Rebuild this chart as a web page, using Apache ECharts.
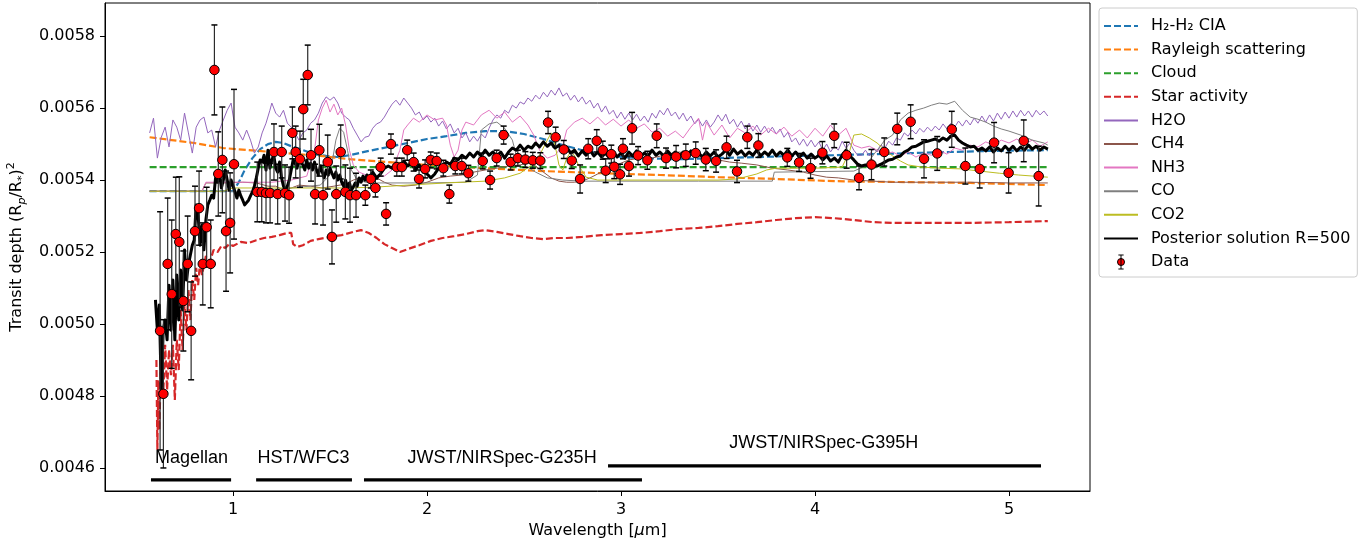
<!DOCTYPE html>
<html>
<head>
<meta charset="utf-8">
<script src="https://cdn.jsdelivr.net/npm/echarts@6/dist/echarts.min.js"></script>
<style>
  html, body { margin: 0; padding: 0; background: #ffffff; }
  #chart { width: 1364px; height: 546px; }
</style>
</head>
<body>
<div id="chart"></div>
<script>
// Transmission spectrum: observed transit depths (ppm) with model contributions.

const xTicks = [1, 2, 3, 4, 5];
const yTicks = [0.0046, 0.0048, 0.0050, 0.0052, 0.0054, 0.0056, 0.0058];

// Observed points: wavelength [um], depth [ppm], 1-sigma error [ppm]
const dataWl = [
  0.624, 0.641, 0.663, 0.684, 0.705, 0.723, 0.744, 0.766, 0.784, 0.804,
  0.825, 0.844, 0.864, 0.885, 0.904, 0.924, 0.945, 0.964, 0.985, 1.005,
  1.125, 1.148, 1.170, 1.191, 1.211, 1.230, 1.251, 1.268, 1.289, 1.306,
  1.323, 1.345, 1.362, 1.385, 1.402, 1.423, 1.445, 1.464, 1.488, 1.510,
  1.532, 1.555, 1.579, 1.603,
  1.634, 1.682, 1.710, 1.734, 1.761, 1.789, 1.814, 1.844, 1.870, 1.898,
  1.931, 1.959, 1.990, 2.019, 2.050, 2.084, 2.115, 2.146, 2.179, 2.213,
  2.287, 2.325, 2.359, 2.395, 2.431, 2.468, 2.507, 2.545, 2.584, 2.624,
  2.663, 2.705, 2.746, 2.789, 2.831, 2.875, 2.906, 2.921, 2.950, 2.965,
  2.995, 3.010, 3.041, 3.057, 3.088, 3.136, 3.184, 3.232, 3.284, 3.334,
  3.385, 3.437, 3.490, 3.544, 3.598, 3.651, 3.708, 3.857, 3.918, 3.977,
  4.038, 4.099, 4.163, 4.227, 4.291, 4.357, 4.424, 4.493, 4.562, 4.630,
  4.705, 4.775, 4.849, 4.923, 4.998, 5.076, 5.153
];
const dataPpm = [
  4981, 4806, 5167, 5083, 5250, 5228, 5064, 5167, 4981, 5258,
  5322, 5167, 5269, 5167, 5706, 5417, 5456, 5258, 5281, 5444,
  5367, 5367, 5364, 5364, 5478, 5361, 5478, 5364, 5358, 5531,
  5478, 5458, 5597, 5692, 5469, 5361, 5483, 5358, 5450, 5242,
  5361, 5478, 5367, 5358,
  5358, 5358, 5403, 5378, 5436, 5306, 5500, 5436, 5436, 5483,
  5450, 5403, 5431, 5456, 5453, 5433, 5361, 5439, 5439, 5419,
  5453, 5400, 5461, 5525, 5450, 5461, 5457, 5455, 5454, 5560,
  5519, 5485, 5454, 5403, 5487, 5509, 5483, 5426, 5472, 5437,
  5416, 5487, 5439, 5544, 5468, 5455, 5523, 5461, 5465, 5469,
  5475, 5457, 5453, 5491, 5424, 5519, 5496, 5463, 5449, 5433,
  5476, 5523, 5469, 5406, 5443, 5478, 5542, 5562, 5459, 5474,
  5541, 5439, 5431, 5504, 5420, 5509, 5411
];
const dataErr = [
  331, 206, 183, 206, 158, 181, 139, 133, 136, 125,
  103, 114, 111, 122, 125, 117, 147, 167, 139, 208,
  83, 83, 83, 83, 78, 83, 72, 78, 78, 72,
  72, 78, 83, 83, 72, 83, 72, 83, 75, 75,
  78, 75, 75, 75,
  61, 28, 25, 25, 25, 31, 28, 25, 25, 28,
  25, 25, 25, 22, 22, 22, 25, 22, 22, 22,
  22, 25, 22, 25, 22, 22, 22, 22, 22, 31,
  28, 25, 22, 39, 28, 31, 25, 33, 25, 33,
  28, 28, 28, 44, 25, 25, 33, 28, 31, 31,
  31, 31, 31, 31, 31, 31, 33, 25, 25, 28,
  31, 33, 36, 33, 42, 39, 44, 47, 53, 47,
  50, 50, 53, 56, 56, 58, 83
];

// Best-fit posterior spectrum
const postWl = [
  0.60, 0.61, 0.62, 0.63, 0.64, 0.65, 0.66, 0.67, 0.68, 0.69,
  0.70, 0.71, 0.72, 0.73, 0.74, 0.75, 0.76, 0.77, 0.78, 0.79,
  0.80, 0.81, 0.82, 0.83, 0.84, 0.85, 0.86, 0.87, 0.88, 0.89,
  0.90, 0.91, 0.92, 0.93, 0.94, 0.95, 0.96, 0.97, 0.98, 0.99, 1.00,
  1.01, 1.02, 1.03, 1.04, 1.05, 1.06, 1.07, 1.08, 1.09, 1.10,
  1.11, 1.12, 1.13, 1.14, 1.15, 1.16, 1.17, 1.18, 1.19, 1.20,
  1.21, 1.22, 1.23, 1.24, 1.25, 1.26, 1.27, 1.28, 1.29, 1.30,
  1.31, 1.32, 1.33, 1.34, 1.35, 1.36, 1.37, 1.38, 1.39, 1.40,
  1.41, 1.42, 1.43, 1.44, 1.45, 1.46, 1.47, 1.48, 1.49, 1.50,
  1.51, 1.52, 1.53, 1.54, 1.55, 1.56, 1.57, 1.58, 1.59, 1.60,
  1.61, 1.62, 1.63, 1.64, 1.65, 1.66, 1.67, 1.68, 1.69, 1.70,
  1.72, 1.74, 1.76, 1.78, 1.80, 1.82, 1.84, 1.86, 1.88, 1.90, 1.92, 1.94, 1.96, 1.98, 2.00,
  2.02, 2.04, 2.06, 2.08, 2.10, 2.12, 2.14, 2.16, 2.18, 2.20,
  2.22, 2.24, 2.26, 2.28, 2.30, 2.32, 2.34, 2.36, 2.38, 2.40,
  2.42, 2.44, 2.46, 2.48, 2.50, 2.52, 2.54, 2.56, 2.58, 2.60,
  2.62, 2.64, 2.66, 2.68, 2.70, 2.72, 2.74, 2.76, 2.78, 2.80,
  2.82, 2.84, 2.86, 2.88, 2.90, 2.92, 2.94, 2.96, 2.98, 3.00,
  3.02, 3.04, 3.06, 3.08, 3.10, 3.12, 3.14, 3.16, 3.18, 3.20,
  3.22, 3.24, 3.26, 3.28, 3.30, 3.32, 3.34, 3.36, 3.38, 3.40,
  3.42, 3.44, 3.46, 3.48, 3.50, 3.52, 3.54, 3.56, 3.58, 3.60,
  3.62, 3.64, 3.66, 3.68, 3.70, 3.72, 3.74, 3.76, 3.78, 3.80,
  3.82, 3.84, 3.86, 3.88, 3.90, 3.92, 3.94, 3.96, 3.98, 4.00,
  4.02, 4.04, 4.06, 4.08, 4.10, 4.12, 4.14, 4.16, 4.18, 4.20,
  4.22, 4.24, 4.26, 4.28, 4.30, 4.32, 4.34, 4.36, 4.38, 4.40,
  4.42, 4.44, 4.46, 4.48, 4.50, 4.52, 4.54, 4.56, 4.58, 4.60,
  4.62, 4.64, 4.66, 4.68, 4.70, 4.72, 4.74, 4.76, 4.78, 4.80,
  4.82, 4.84, 4.86, 4.88, 4.90, 4.92, 4.94, 4.96, 4.98, 5.00,
  5.02, 5.04, 5.06, 5.08, 5.10, 5.12, 5.14, 5.16, 5.18, 5.20
];
const postPpm = [
  5067, 4983, 5053, 4817, 4983, 5011, 4956, 5108, 4983, 5122,
  4956, 5136, 5011, 5150, 5039, 5206, 5122, 5164, 5192, 5219,
  5233, 5331, 5303, 5219, 5275, 5206, 5289, 5331, 5344, 5358,
  5350, 5406, 5394, 5422, 5378, 5400, 5428, 5400, 5372, 5400, 5400,
  5367, 5350, 5372, 5356, 5344, 5331, 5328, 5344, 5356, 5367,
  5383, 5406, 5433, 5456, 5450, 5469, 5428, 5483, 5433, 5456,
  5469, 5433, 5422, 5450, 5406, 5383, 5372, 5383, 5400, 5428,
  5456, 5447, 5433, 5456, 5461, 5442, 5428, 5456, 5433, 5447,
  5428, 5450, 5428, 5414, 5439, 5422, 5406, 5428, 5414, 5433,
  5419, 5406, 5422, 5400, 5414, 5394, 5383, 5400, 5378, 5392,
  5372, 5381, 5392, 5383, 5406, 5394, 5411, 5400, 5414, 5406,
  5422, 5406, 5417, 5433, 5439, 5433, 5447, 5439, 5453, 5439, 5447, 5428, 5442, 5422, 5417,
  5406, 5417, 5433, 5439, 5450, 5444, 5461, 5456, 5469, 5461,
  5475, 5464, 5478, 5467, 5483, 5469, 5478, 5467, 5478, 5461,
  5478, 5489, 5483, 5497, 5483, 5494, 5489, 5503, 5492, 5506,
  5494, 5503, 5489, 5497, 5483, 5492, 5475, 5483, 5467, 5481,
  5469, 5483, 5467, 5478, 5464, 5475, 5461, 5478, 5464, 5475,
  5461, 5478, 5467, 5481, 5464, 5475, 5467, 5483, 5469, 5478,
  5467, 5481, 5469, 5478, 5464, 5478, 5469, 5481, 5467, 5475,
  5464, 5478, 5467, 5478, 5464, 5472, 5483, 5469, 5486, 5472,
  5481, 5467, 5478, 5469, 5483, 5467, 5478, 5469, 5483, 5467,
  5478, 5469, 5483, 5467, 5478, 5464, 5475, 5461, 5472, 5461,
  5469, 5456, 5467, 5453, 5461, 5450, 5469, 5483, 5467, 5456,
  5444, 5439, 5442, 5439, 5442, 5439, 5444, 5450, 5456, 5458,
  5464, 5467, 5478, 5483, 5492, 5494, 5500, 5506, 5508, 5511,
  5514, 5508, 5517, 5511, 5522, 5525, 5511, 5503, 5497, 5492,
  5494, 5483, 5489, 5481, 5492, 5478, 5489, 5481, 5494, 5483,
  5494, 5481, 5492, 5483, 5497, 5486, 5494, 5483, 5492, 5486
];

// Parametric contributions
const ciaWl = [0.57, 1.00, 1.03, 1.06, 1.10, 1.14, 1.18, 1.22, 1.26, 1.30,
  1.36, 1.42, 1.48, 1.54, 1.60, 1.70, 1.80, 1.90, 2.00, 2.10,
  2.20, 2.30, 2.40, 2.50, 2.60, 2.70, 2.80, 2.90, 3.00, 3.10,
  3.30, 3.50, 3.70, 3.90, 4.10, 4.30, 4.50, 4.70, 4.90, 5.20];
const ciaPpm = [5369, 5369, 5394, 5428, 5461, 5486, 5500, 5506, 5503, 5494,
  5483, 5472, 5467, 5464, 5469, 5481, 5492, 5503, 5514, 5522,
  5531, 5536, 5536, 5528, 5514, 5497, 5483, 5472, 5464, 5461,
  5458, 5461, 5464, 5467, 5469, 5472, 5475, 5478, 5481, 5483];

const rayWl = [0.57, 0.80, 0.95, 1.20, 1.45, 1.60, 1.80, 2.00, 2.30, 2.60,
  2.90, 3.20, 3.50, 3.80, 4.10, 4.50, 4.80, 5.20];
const rayPpm = [5519, 5503, 5489, 5478, 5467, 5458, 5450, 5442, 5433, 5425,
  5419, 5414, 5408, 5403, 5397, 5394, 5392, 5386];

const cloudWl = [0.57, 5.20];
const cloudPpm = [5436, 5436];

const starWl = [0.605, 0.61, 0.615, 0.62, 0.63, 0.64, 0.65, 0.66, 0.67, 0.68,
  0.69, 0.70, 0.71, 0.72, 0.73, 0.74, 0.75, 0.76, 0.77, 0.78,
  0.79, 0.80, 0.81, 0.82, 0.83, 0.84, 0.86, 0.88, 0.90, 0.92,
  0.94, 0.96, 0.98, 1.00, 1.04, 1.08, 1.12, 1.16, 1.20, 1.24,
  1.28, 1.30, 1.31, 1.33, 1.36, 1.40, 1.44, 1.50, 1.56, 1.62,
  1.66, 1.70, 1.74, 1.78, 1.82, 1.86, 1.90, 1.96, 2.02, 2.08,
  2.14, 2.20, 2.26, 2.30, 2.36, 2.42, 2.48, 2.54, 2.60, 2.66,
  2.72, 2.80, 2.90, 3.00, 3.10, 3.20, 3.30, 3.40, 3.50, 3.60,
  3.70, 3.80, 3.90, 4.00, 4.10, 4.20, 4.30, 4.40, 4.60, 4.80,
  5.00, 5.20];
const starPpm = [4900, 4650, 4844, 4706, 4928, 4803, 4942, 4817, 4928, 4858,
  4942, 4789, 4956, 4872, 5039, 4928, 5053, 4983, 5094, 5011,
  5122, 5067, 5156, 5108, 5172, 5136, 5189, 5172, 5206, 5200,
  5217, 5211, 5222, 5217, 5228, 5225, 5233, 5239, 5242, 5247,
  5253, 5253, 5222, 5214, 5219, 5231, 5236, 5242, 5247, 5256,
  5261, 5253, 5239, 5222, 5211, 5200, 5208, 5219, 5231, 5239,
  5244, 5250, 5258, 5261, 5256, 5250, 5244, 5239, 5236, 5239,
  5239, 5242, 5247, 5250, 5253, 5258, 5264, 5267, 5272, 5278,
  5283, 5289, 5294, 5297, 5294, 5289, 5283, 5281, 5281, 5281,
  5283, 5286];

// Molecular contributions
const h2oWl = [0.57, 0.59, 0.61, 0.63, 0.65, 0.67, 0.69, 0.71, 0.73, 0.75,
  0.77, 0.79, 0.81, 0.83, 0.85, 0.87, 0.89, 0.91, 0.93, 0.95,
  0.97, 0.99, 1.01, 1.03, 1.05, 1.07, 1.09, 1.11, 1.13, 1.15,
  1.17, 1.19,
  1.20, 1.22, 1.24, 1.26, 1.28, 1.30, 1.32, 1.34, 1.36, 1.38,
  1.40, 1.42, 1.44, 1.46, 1.48, 1.50, 1.52, 1.54, 1.56, 1.58,
  1.60, 1.62, 1.64, 1.66, 1.68, 1.70, 1.72, 1.74, 1.76, 1.78,
  1.80, 1.82, 1.84, 1.86, 1.88, 1.90, 1.92, 1.94, 1.96, 1.98,
  2.00, 2.02, 2.04, 2.06, 2.08, 2.10, 2.12, 2.14, 2.16, 2.18,
  2.20, 2.22, 2.24, 2.26, 2.28, 2.30, 2.32, 2.34, 2.36, 2.38,
  2.40, 2.42, 2.44, 2.46, 2.48, 2.50, 2.52, 2.54, 2.56, 2.58,
  2.60, 2.62, 2.64, 2.66, 2.68, 2.70, 2.72, 2.74, 2.76, 2.78,
  2.80, 2.82, 2.84, 2.86, 2.88, 2.90, 2.92, 2.94, 2.96, 2.98,
  3.00, 3.02, 3.04, 3.06, 3.08, 3.10, 3.12, 3.14, 3.16, 3.18,
  3.20, 3.22, 3.24, 3.26, 3.28, 3.30, 3.32, 3.34, 3.36, 3.38,
  3.40, 3.42, 3.44, 3.46, 3.48, 3.50, 3.52, 3.54, 3.56, 3.58,
  3.60, 3.62, 3.64, 3.66, 3.68, 3.70, 3.72, 3.74, 3.76, 3.78,
  3.80, 3.82, 3.84, 3.86, 3.88, 3.90, 3.92, 3.94, 3.96, 3.98,
  4.00, 4.02, 4.04, 4.06, 4.08, 4.10, 4.12, 4.14, 4.16, 4.18,
  4.20, 4.22, 4.24, 4.26, 4.28, 4.30, 4.32, 4.34, 4.36, 4.38,
  4.40, 4.42, 4.44, 4.46, 4.48, 4.50, 4.52, 4.54, 4.56, 4.58,
  4.60, 4.62, 4.64, 4.66, 4.68, 4.70, 4.72, 4.74, 4.76, 4.78,
  4.80, 4.82, 4.84, 4.86, 4.88, 4.90, 4.92, 4.94, 4.96, 4.98,
  5.00, 5.02, 5.04, 5.06, 5.08, 5.10, 5.12, 5.14, 5.16, 5.18, 5.20];
const h2oPpm = [5531, 5572, 5461, 5519, 5547, 5492, 5567, 5547, 5511, 5586,
  5531, 5475, 5547, 5567, 5575, 5531, 5539, 5492, 5539, 5567,
  5594, 5614, 5547, 5531, 5511, 5539, 5511, 5475, 5492, 5531,
  5558, 5594,
  5614, 5586, 5575, 5594, 5558, 5547, 5531, 5511, 5531, 5539,
  5558, 5567, 5586, 5614, 5631, 5622, 5631, 5614, 5586, 5575,
  5567, 5544, 5525, 5506, 5519, 5522, 5544, 5556, 5561, 5575,
  5594, 5611, 5622, 5608, 5628, 5614, 5600, 5581, 5589, 5567,
  5578, 5561, 5572, 5550, 5564, 5542, 5556, 5531, 5544, 5517,
  5531, 5506, 5522, 5508, 5528, 5517, 5544, 5567, 5581, 5572,
  5594, 5586, 5608, 5600, 5617, 5611, 5628, 5619, 5636, 5625,
  5644, 5631, 5650, 5636, 5656, 5633, 5642, 5622, 5636, 5617,
  5631, 5611, 5622, 5600, 5614, 5589, 5606, 5583, 5594, 5572,
  5589, 5569, 5586, 5567, 5583, 5564, 5578, 5561, 5586, 5572,
  5594, 5581, 5600, 5578, 5589, 5569, 5586, 5564, 5578, 5556,
  5569, 5550, 5567, 5547, 5561, 5581, 5564, 5583, 5556, 5569,
  5547, 5564, 5542, 5558, 5536, 5553, 5533, 5550, 5531, 5547,
  5528, 5542, 5519, 5533, 5506, 5517, 5497, 5514, 5494, 5511,
  5492, 5506, 5483, 5500, 5478, 5494, 5483, 5508, 5489, 5503,
  5483, 5469, 5469, 5483, 5467, 5489, 5478, 5497, 5489, 5508,
  5497, 5517, 5511, 5531, 5522, 5539, 5528, 5544, 5533, 5547,
  5536, 5550, 5539, 5556, 5542, 5558, 5547, 5564, 5550, 5567,
  5553, 5572, 5558, 5578, 5561, 5581, 5564, 5586, 5569, 5589,
  5572, 5592, 5575, 5594, 5578, 5592, 5575, 5594, 5581, 5592, 5578];

const ch4Wl = [0.57, 0.84, 0.86, 0.95, 1.05, 1.12, 1.18, 1.22, 1.26, 1.30,
  1.34, 1.40, 1.46, 1.52, 1.58, 1.62, 1.68, 1.74, 1.78, 1.82,
  1.88, 1.94, 2.00, 2.06, 2.12, 2.18, 2.24, 2.30, 2.36, 2.42,
  2.48, 2.52, 2.56, 2.60, 2.64, 2.68, 2.72, 2.76, 2.80, 2.84,
  2.88, 2.92, 2.96, 3.00, 3.04, 3.10, 3.16, 3.22, 3.30, 3.38,
  3.44, 3.50, 3.56, 3.62, 3.70, 3.78, 3.86, 3.94, 4.00, 4.06,
  4.12, 4.20, 4.30, 4.40, 4.60, 4.80, 5.00, 5.20];
const ch4Ppm = [5369, 5369, 5392, 5392, 5394, 5392, 5383, 5383, 5372, 5378,
  5386, 5383, 5378, 5383, 5389, 5400, 5411, 5406, 5394, 5386,
  5383, 5386, 5394, 5406, 5411, 5414, 5422, 5428, 5433, 5439,
  5442, 5447, 5439, 5422, 5406, 5397, 5394, 5394, 5397, 5406,
  5417, 5428, 5439, 5447, 5456, 5461, 5461, 5469, 5478, 5467,
  5461, 5456, 5450, 5447, 5442, 5433, 5428, 5422, 5414, 5408,
  5406, 5400, 5397, 5394, 5394, 5394, 5392, 5392];

const nh3Wl = [0.57, 0.84, 0.86, 1.20, 1.30, 1.38,
  1.42, 1.44, 1.46, 1.48, 1.50, 1.52, 1.54, 1.56, 1.58, 1.60, 1.62,
  1.65, 1.70, 1.78, 1.82, 1.86, 1.88, 1.90, 1.93, 1.96,
  2.00, 2.04, 2.08, 2.10, 2.12, 2.14, 2.16, 2.18, 2.20,
  2.24, 2.28, 2.32, 2.36, 2.40, 2.44, 2.48, 2.52,
  2.55, 2.58, 2.62, 2.66, 2.70, 2.72,
  2.76, 2.80, 2.84, 2.88, 2.92, 2.96, 3.00, 3.04, 3.08, 3.12, 3.16, 3.20, 3.24, 3.28, 3.32, 3.36,
  3.40, 3.42, 3.44,
  3.48, 3.52, 3.56, 3.60, 3.64, 3.68, 3.72, 3.76, 3.80, 3.84,
  3.88, 3.92, 3.96, 4.00, 4.04, 4.08, 4.12, 4.16, 4.20, 4.24,
  4.28, 4.32, 4.36, 4.40, 4.44, 4.48, 4.52, 4.56, 4.60, 4.64,
  4.68, 4.72, 4.76, 4.80, 4.84, 4.88, 4.92, 4.96, 5.00, 5.04,
  5.08, 5.12, 5.16, 5.20];
const nh3Ppm = [5369, 5369, 5394, 5394, 5400, 5411,
  5483, 5567, 5600, 5622, 5589, 5611, 5581, 5600, 5553, 5483, 5442,
  5422, 5411, 5411, 5428, 5483, 5539, 5553, 5572, 5561,
  5581, 5567, 5572, 5553, 5497, 5464, 5483, 5539, 5561,
  5553, 5581, 5594, 5572, 5589, 5561, 5578, 5553,
  5525, 5483, 5461, 5469, 5497, 5539,
  5561, 5572, 5556, 5575, 5553, 5569, 5550, 5567, 5544, 5556, 5533, 5544, 5522, 5536, 5517, 5547,
  5572, 5511, 5561,
  5525, 5553, 5517, 5544, 5531, 5550, 5525, 5544, 5528, 5547,
  5522, 5539, 5517, 5544, 5522, 5553, 5525, 5544, 5497, 5489,
  5494, 5483, 5472, 5478, 5467, 5478, 5464, 5475, 5469, 5483,
  5472, 5489, 5483, 5497, 5492, 5506, 5497, 5511, 5503, 5514,
  5500, 5511, 5494, 5506];

const coWl = [0.57, 1.10, 1.30, 1.45, 1.50, 1.53, 1.55, 1.57, 1.59, 1.61,
  1.64, 1.70, 2.00, 2.20, 2.26,
  2.28, 2.32, 2.36, 2.40, 2.44, 2.46, 2.50, 2.56, 2.62, 2.70,
  2.80, 3.00, 3.40, 3.78, 3.79, 4.20, 4.26, 4.30, 4.36, 4.40,
  4.44, 4.48, 4.52, 4.56, 4.60, 4.64, 4.68, 4.72, 4.76, 4.80,
  4.84, 4.88, 4.92, 4.96, 5.00, 5.06, 5.12, 5.18, 5.20];
const coPpm = [5369, 5369, 5378, 5386, 5414, 5511, 5544, 5533, 5483, 5428,
  5400, 5392, 5392, 5394, 5414,
  5539, 5556, 5561, 5544, 5511, 5469, 5442, 5422, 5406, 5400,
  5397, 5397, 5397, 5397, 5422, 5425, 5439, 5469, 5511, 5525,
  5567, 5586, 5594, 5600, 5608, 5614, 5611, 5619, 5594, 5575,
  5569, 5561, 5550, 5542, 5536, 5525, 5511, 5503, 5497];

const co2Wl = [0.57, 0.95, 1.00, 1.60, 1.75, 1.90, 2.10, 2.30, 2.40, 2.48,
  2.54, 2.58, 2.62, 2.64, 2.66, 2.68, 2.70, 2.72, 2.74, 2.76,
  2.78, 2.82, 2.88, 3.00, 3.50, 3.60, 3.70, 3.75, 3.80, 4.00,
  4.14, 4.18, 4.20, 4.24, 4.28, 4.32, 4.36, 4.40, 4.44, 4.48,
  4.55, 4.65, 4.75, 4.85, 4.95, 5.05, 5.20];
const co2Ppm = [5369, 5369, 5378, 5378, 5381, 5386, 5392, 5397, 5406, 5419,
  5442, 5469, 5511, 5531, 5497, 5442, 5428, 5461, 5478, 5469,
  5442, 5408, 5400, 5400, 5400, 5403, 5417, 5428, 5433, 5433,
  5436, 5483, 5525, 5528, 5517, 5503, 5483, 5467, 5453, 5442,
  5436, 5433, 5431, 5425, 5419, 5414, 5408];

// Instrument coverage
const instNames = ['Magellan', 'HST/WFC3', 'JWST/NIRSpec-G235H', 'JWST/NIRSpec-G395H'];
const instStart = [0.577, 1.119, 1.675, 2.933];
const instEnd = [0.990, 1.613, 3.108, 5.165];
const instLevel = [4567, 4567, 4567, 4606];
const instLabelWl = [0.786, 1.363, 2.387, 4.045];
const instLabelLevel = [4628, 4628, 4628, 4669];

const FONT = 'DejaVu Sans';
const PPM = 1e-6;
const pairs = (wl, ppm) => wl.map((w, i) => [w, ppm[i] * PPM]);

const components = [
  { name: 'H₂-H₂ CIA', wl: ciaWl, v: ciaPpm, color: '#1f77b4', dash: true },
  { name: 'Rayleigh scattering', wl: rayWl, v: rayPpm, color: '#ff7f0e', dash: true },
  { name: 'Cloud', wl: cloudWl, v: cloudPpm, color: '#2ca02c', dash: true },
  { name: 'Star activity', wl: starWl, v: starPpm, color: '#d62728', dash: true },
  { name: 'H2O', wl: h2oWl, v: h2oPpm, color: '#9467bd', dash: false },
  { name: 'CH4', wl: ch4Wl, v: ch4Ppm, color: '#8c564b', dash: false },
  { name: 'NH3', wl: nh3Wl, v: nh3Ppm, color: '#e377c2', dash: false },
  { name: 'CO', wl: coWl, v: coPpm, color: '#7f7f7f', dash: false },
  { name: 'CO2', wl: co2Wl, v: co2Ppm, color: '#bcbd22', dash: false }
];

const series = [];
components.forEach(c => {
  series.push({
    name: c.name,
    type: 'line',
    data: pairs(c.wl, c.v),
    symbol: 'none',
    showSymbol: false,
    silent: true,
    z: 2,
    color: c.color,
    lineStyle: c.dash
      ? { color: c.color, width: 2.2, type: [7, 3] }
      : { color: c.color, width: 1 }
  });
});

series.push({
  name: 'Posterior solution R=500',
  type: 'line',
  data: pairs(postWl, postPpm),
  symbol: 'none',
  showSymbol: false,
  silent: true,
  z: 3,
  color: '#000000',
  lineStyle: { color: '#000000', width: 3, join: 'round' }
});

// error bars with caps
series.push({
  name: 'errbars',
  type: 'custom',
  z: 4,
  silent: true,
  clip: true,
  data: dataWl.map((w, i) => [w, dataPpm[i] * PPM, dataErr[i] * PPM]),
  encode: { x: 0, y: 1 },
  renderItem: (params, api) => {
    const x = api.value(0), y = api.value(1), e = api.value(2);
    const top = api.coord([x, y + e]);
    const bot = api.coord([x, y - e]);
    const cw = 3;
    return {
      type: 'group',
      children: [
        { type: 'line', shape: { x1: top[0], y1: top[1], x2: bot[0], y2: bot[1] },
          style: { stroke: '#2b2b2b', lineWidth: 1.2 } },
        { type: 'line', shape: { x1: top[0] - cw, y1: top[1], x2: top[0] + cw, y2: top[1] },
          style: { stroke: '#000', lineWidth: 1.5 } },
        { type: 'line', shape: { x1: bot[0] - cw, y1: bot[1], x2: bot[0] + cw, y2: bot[1] },
          style: { stroke: '#000', lineWidth: 1.5 } }
      ]
    };
  }
});

series.push({
  name: 'Data',
  type: 'scatter',
  data: pairs(dataWl, dataPpm),
  symbol: 'circle',
  symbolSize: 9.5,
  z: 5,
  silent: true,
  itemStyle: { color: '#ff0000', borderColor: '#000000', borderWidth: 1, opacity: 1 }
});

// instrument coverage bars
instNames.forEach((n, i) => {
  series.push({
    name: 'inst-' + i,
    type: 'line',
    data: [[instStart[i], instLevel[i] * PPM], [instEnd[i], instLevel[i] * PPM]],
    symbol: 'none',
    silent: true,
    z: 3,
    lineStyle: { color: '#000', width: 3.2 }
  });
});
series.push({
  name: 'inst-labels',
  type: 'scatter',
  symbolSize: 0,
  silent: true,
  z: 6,
  itemStyle: { opacity: 1 },
  data: instNames.map((n, i) => ({ name: n, value: [instLabelWl[i], instLabelLevel[i] * PPM] })),
  label: {
    show: true,
    position: 'inside',
    formatter: '{b}',
    fontFamily: 'Liberation Sans',
    fontSize: 18,
    color: '#000',
    opacity: 1,
    textBorderWidth: 0
  }
});

const legendNames = components.map(c => c.name).concat(['Posterior solution R=500', 'Data']);

const option = {
  animation: false,
  backgroundColor: '#ffffff',
  grid: {
    left: 105, right: 274, top: 3, bottom: 55,
    outerBoundsMode: 'none',
    show: true, borderColor: '#000', borderWidth: 1, backgroundColor: 'transparent'
  },
  legend: {
    orient: 'vertical',
    left: 1099,
    top: 8,
    padding: [10, 7, 7, 4],
    itemGap: 7.6,
    itemWidth: 34,
    itemHeight: 14,
    backgroundColor: '#ffffff',
    borderColor: '#cccccc',
    borderWidth: 1,
    borderRadius: 3,
    selectedMode: false,
    textStyle: { fontFamily: FONT, fontSize: 16, lineHeight: 16, color: '#000', padding: [0, 0, 0, 8] },
    data: legendNames.map(n => {
      if (n === 'Data') {
        return {
          name: n,
          icon: 'path://M5,0L5,16M2,0L8,0M2,16L8,16M9,8A4,4,0,1,1,1,8A4,4,0,1,1,9,8Z',
          itemStyle: { color: '#ff0000', borderColor: '#000', borderWidth: 1 }
        };
      }
      return { name: n, itemStyle: { opacity: 0 } };
    })
  },
  xAxis: {
    type: 'value',
    min: 0.34,
    max: 5.4175,
    name: '{a|Wavelength [}{i|μ}{a|m]}',
    nameLocation: 'middle',
    nameGap: 32,
    nameTextStyle: {
      rich: {
        a: { fontFamily: FONT, fontSize: 16, color: '#000' },
        i: { fontFamily: FONT, fontSize: 16, color: '#000', fontStyle: 'italic' }
      }
    },
    axisLine: { show: true, onZero: false, lineStyle: { color: '#000', width: 1 } },
    axisTick: { show: true, customValues: xTicks, length: 5, lineStyle: { color: '#000' } },
    axisLabel: {
      customValues: xTicks, margin: 11, fontFamily: FONT, fontSize: 16, color: '#000',
      formatter: v => String(v)
    },
    splitLine: { show: false }
  },
  yAxis: {
    type: 'value',
    min: 0.004536,
    max: 0.005892,
    name: '{a|Transit depth (R}{s|p}{a|/R}{t|*}{a|)}{u|2}',
    nameLocation: 'middle',
    nameGap: 75,
    nameTextStyle: {
      rich: {
        a: { fontFamily: FONT, fontSize: 16, color: '#000', lineHeight: 22 },
        s: { fontFamily: FONT, fontSize: 11, color: '#000', fontStyle: 'italic', lineHeight: 12, verticalAlign: 'bottom' },
        t: { fontFamily: FONT, fontSize: 11, color: '#000', lineHeight: 12, verticalAlign: 'bottom' },
        u: { fontFamily: FONT, fontSize: 11, color: '#000', lineHeight: 12, verticalAlign: 'top' }
      }
    },
    axisLine: { show: true, onZero: false, lineStyle: { color: '#000', width: 1 } },
    axisTick: { show: true, customValues: yTicks, length: 5, lineStyle: { color: '#000' } },
    axisLabel: {
      customValues: yTicks, margin: 10, fontFamily: FONT, fontSize: 16, color: '#000',
      formatter: v => v.toFixed(4)
    },
    splitLine: { show: false }
  },
  series: series
};

const chart = echarts.init(document.getElementById('chart'), null, { renderer: 'canvas' });
chart.setOption(option);
</script>
</body>
</html>
